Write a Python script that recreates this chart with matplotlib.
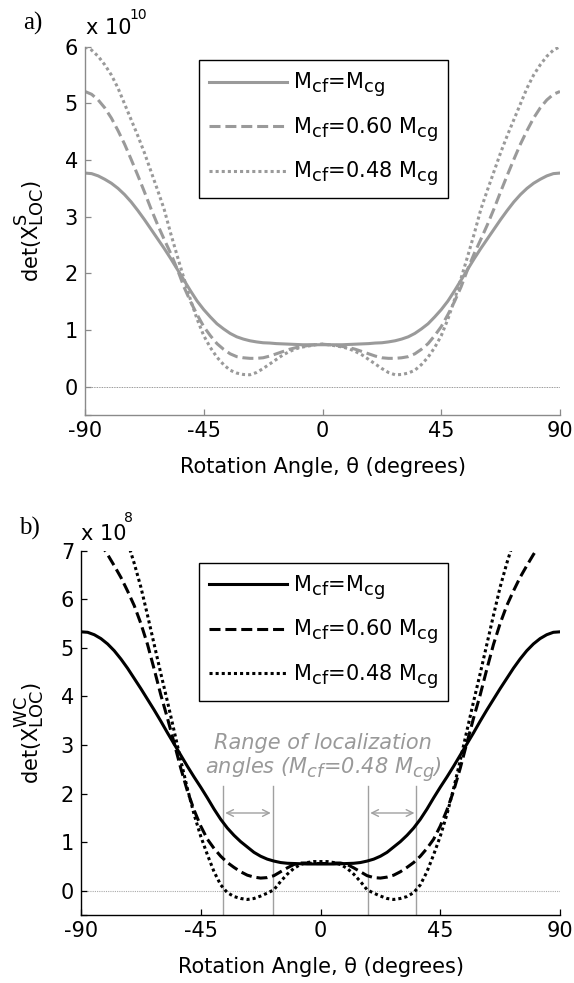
import matplotlib
matplotlib.use("Agg")
import numpy as np
import matplotlib.pyplot as plt
import matplotlib._mathtext as _mt

# MATLAB-style larger, lower sub/superscripts
_mt.SHRINK_FACTOR = 0.85
_mt.DejaVuSansFontConstants.sub1 = 0.35
_mt.DejaVuSansFontConstants.sub2 = 0.45

plt.rcParams['font.family'] = ['DejaVu Sans']
plt.rcParams['mathtext.default'] = 'regular'

# ---------------- data ----------------
theta = np.arange(-90, 90.01, 2.5)

# panel a) det(X^S_LOC), units of 1e10
a_full = [3.77, 3.76, 3.72, 3.66, 3.59, 3.50, 3.39, 3.26, 3.11, 2.95, 2.78, 2.61, 2.44, 2.26, 2.07, 1.88, 1.69, 1.51,
          1.36, 1.23, 1.11, 1.02, 0.94, 0.88, 0.84, 0.81, 0.79, 0.775, 0.77, 0.76, 0.755, 0.75, 0.745, 0.74, 0.74, 0.74,
          0.74,
          0.74, 0.74, 0.74, 0.745, 0.75, 0.755, 0.76, 0.77, 0.775, 0.79, 0.81, 0.84, 0.88, 0.94, 1.02, 1.11, 1.23, 1.36,
          1.51, 1.69, 1.88, 2.07, 2.26, 2.44, 2.61, 2.78, 2.95, 3.11, 3.26, 3.39, 3.50, 3.59, 3.66, 3.72, 3.76, 3.77]
a_060 = [5.21, 5.16, 5.06, 4.92, 4.74, 4.52, 4.28, 4.01, 3.73, 3.44, 3.14, 2.86, 2.60, 2.35, 2.07, 1.76, 1.50, 1.27,
         1.06, 0.90, 0.76, 0.66, 0.58, 0.53, 0.51, 0.50, 0.50, 0.51, 0.54, 0.58, 0.62, 0.66, 0.69, 0.71, 0.73, 0.74,
         0.75,
         0.74, 0.73, 0.71, 0.69, 0.66, 0.62, 0.58, 0.54, 0.51, 0.50, 0.50, 0.51, 0.53, 0.58, 0.66, 0.76, 0.90, 1.06,
         1.27, 1.50, 1.76, 2.07, 2.35, 2.60, 2.86, 3.14, 3.44, 3.73, 4.01, 4.28, 4.52, 4.74, 4.92, 5.06, 5.16, 5.21]
a_048 = [6.00, 5.94, 5.83, 5.68, 5.50, 5.27, 4.99, 4.71, 4.43, 4.13, 3.80, 3.47, 3.13, 2.70, 2.30, 1.91, 1.53, 1.19,
         0.90, 0.69, 0.52, 0.39, 0.29, 0.24, 0.215, 0.21, 0.25, 0.32, 0.40, 0.48, 0.56, 0.62, 0.67, 0.70, 0.72, 0.74,
         0.75,
         0.74, 0.72, 0.70, 0.67, 0.62, 0.56, 0.48, 0.40, 0.32, 0.25, 0.21, 0.215, 0.24, 0.29, 0.39, 0.52, 0.69, 0.90,
         1.19, 1.53, 1.91, 2.30, 2.70, 3.13, 3.47, 3.80, 4.13, 4.43, 4.71, 4.99, 5.27, 5.50, 5.68, 5.83, 5.94, 6.00]

# panel b) det(X^WC_LOC), units of 1e8
b_full = [5.33, 5.32, 5.27, 5.19, 5.08, 4.94, 4.77, 4.58, 4.37, 4.16, 3.94, 3.72, 3.49, 3.25, 3.02, 2.79, 2.56, 2.34,
          2.13, 1.91, 1.68, 1.47, 1.29, 1.14, 1.01, 0.90, 0.79, 0.71, 0.65, 0.61, 0.58, 0.565, 0.56, 0.555, 0.55, 0.55,
          0.55,
          0.55, 0.55, 0.555, 0.56, 0.565, 0.58, 0.61, 0.65, 0.71, 0.79, 0.90, 1.01, 1.14, 1.29, 1.47, 1.68, 1.91, 2.13,
          2.34, 2.56, 2.79, 3.02, 3.25, 3.49, 3.72, 3.94, 4.16, 4.37, 4.58, 4.77, 4.94, 5.08, 5.19, 5.27, 5.32, 5.33]
b_060 = [7.70, 7.55, 7.35, 7.13, 6.92, 6.69, 6.45, 6.17, 5.87, 5.50, 5.07, 4.56, 4.03, 3.55, 3.04, 2.52, 2.05, 1.66,
         1.33, 1.06, 0.87, 0.71, 0.58, 0.48, 0.39, 0.32, 0.28, 0.26, 0.27, 0.31, 0.39, 0.47, 0.54, 0.57, 0.57, 0.56,
         0.56,
         0.56, 0.57, 0.57, 0.54, 0.47, 0.39, 0.31, 0.27, 0.26, 0.28, 0.32, 0.39, 0.48, 0.58, 0.71, 0.87, 1.06, 1.33,
         1.66, 2.05, 2.52, 3.04, 3.55, 4.03, 4.56, 5.07, 5.50, 5.87, 6.17, 6.45, 6.69, 6.92, 7.13, 7.35, 7.55, 7.70]
b_048 = [9.60, 9.30, 9.00, 8.65, 8.30, 7.95, 7.60, 7.18, 6.74, 6.25, 5.67, 5.07, 4.47, 3.89, 3.29, 2.68, 2.10, 1.57,
         1.12, 0.74, 0.39, 0.12, -0.04, -0.12, -0.16, -0.18, -0.16, -0.11, -0.05, 0.02, 0.19, 0.34, 0.46, 0.54, 0.58,
         0.60, 0.60,
         0.60, 0.58, 0.54, 0.46, 0.34, 0.19, 0.02, -0.05, -0.11, -0.16, -0.18, -0.16, -0.12, -0.04, 0.12, 0.39, 0.74,
         1.12, 1.57, 2.10, 2.68, 3.29, 3.89, 4.47, 5.07, 5.67, 6.25, 6.74, 7.18, 7.60, 7.95, 8.30, 8.65, 9.00, 9.30, 9.60]

labels = [r'M$_{cf}$=M$_{cg}$', r'M$_{cf}$=0.60 M$_{cg}$', r'M$_{cf}$=0.48 M$_{cg}$']
xticks = [-90, -45, 0, 45, 90]
a_yticks = [0, 1, 2, 3, 4, 5, 6]
b_yticks = [0, 1, 2, 3, 4, 5, 6, 7]
loc_lines = [-36.5, -18.0, 18.0, 36.0]
arrow_y = 1.6

# ---------------- figure ----------------
fig = plt.figure(figsize=(5.74, 9.83), dpi=100)
W, H = 574.0, 983.0

def axes_px(l, r, t, b):
    return fig.add_axes([l / W, 1 - b / H, (r - l) / W, (b - t) / H])

axA = axes_px(85, 560, 46.7, 415)
axB = axes_px(81, 560, 550.7, 915)

FS = 15
dash = (3.6, 1.6)
dot = (1.0, 1.0)

def style(ax, spine_col, yticks, ylim):
    ax.set_xlim(-90, 90)
    ax.set_ylim(*ylim)
    ax.set_xticks(xticks)
    ax.set_xticklabels([str(v) for v in xticks])
    ax.set_yticks(yticks)
    ax.set_yticks([ylim[0]], minor=True)
    for s in ['top', 'right']:
        ax.spines[s].set_visible(False)
    for s in ['left', 'bottom']:
        ax.spines[s].set_color(spine_col)
        ax.spines[s].set_linewidth(1.0)
    ax.tick_params(which='both', direction='in', length=4, width=0.9, color=spine_col,
                   labelsize=FS, labelcolor='black', top=False, right=False)
    ax.tick_params(axis='x', pad=4)
    ax.tick_params(axis='y', pad=5)

# ---- panel a ----
ga = '#9a9a9a'
axA.axhline(0, color='#777777', lw=0.6, ls=(0, (1, 1)), zorder=1)
la1, = axA.plot(theta, a_full, color=ga, lw=2.2, label=labels[0])
la2, = axA.plot(theta, a_060, color=ga, lw=2.2, ls=(0, dash), label=labels[1])
la3, = axA.plot(theta, a_048, color=ga, lw=2.2, ls=(0, dot), label=labels[2])
style(axA, '#8a8a8a', a_yticks, (-0.5, 6))
axA.set_xlabel('Rotation Angle, \u03b8 (degrees)', fontsize=FS, va='center')
axA.xaxis.set_label_coords(0.5, -0.141)
axA.set_ylabel(r'det(X$^{S}_{LOC}$)', fontsize=FS, va='center')
axA.yaxis.set_label_coords(-0.118, 0.5)

# ---- panel b ----
gl = '#a0a0a0'
axB.axhline(0, color='#aaaaaa', lw=0.8, ls=(0, (1, 1)), zorder=1)
for xv in loc_lines:
    axB.plot([xv, xv], [-0.5, 2.15], color=gl, lw=1.0, zorder=1)
for x0, x1 in [(loc_lines[0], loc_lines[1]), (loc_lines[2], loc_lines[3])]:
    axB.annotate('', xy=(x1 - 0.7, arrow_y), xytext=(x0 + 0.7, arrow_y),
                 arrowprops=dict(arrowstyle='<->', color=gl, lw=1.0, mutation_scale=12,
                                 shrinkA=0, shrinkB=0))
axB.text(1.0, 2.72, 'Range of localization\nangles (M$_{cf}$=0.48 M$_{cg}$)', color='#999999',
         style='italic', fontsize=FS, ha='center', va='center', linespacing=1.1)
lb1, = axB.plot(theta, b_full, color='black', lw=2.2, label=labels[0])
lb2, = axB.plot(theta, b_060, color='black', lw=2.2, ls=(0, dash), label=labels[1])
lb3, = axB.plot(theta, b_048, color='black', lw=2.2, ls=(0, dot), label=labels[2])
style(axB, 'black', b_yticks, (-0.5, 7))
axB.set_xlabel('Rotation Angle, \u03b8 (degrees)', fontsize=FS, va='center')
axB.xaxis.set_label_coords(0.5, -0.143)
axB.set_ylabel(r'det(X$^{WC}_{LOC}$)', fontsize=FS, va='center')
axB.yaxis.set_label_coords(-0.109, 0.5)

# ---- legends ----
def make_legend(handles, top_px):
    leg = fig.legend(handles=handles, loc='upper left',
                     bbox_to_anchor=(199 / W, 1 - top_px / H), bbox_transform=fig.transFigure,
                     fontsize=FS, frameon=True, fancybox=False, edgecolor='black',
                     handlelength=3.7, handletextpad=0.3, borderpad=0.5, labelspacing=0.75,
                     borderaxespad=0)
    leg.get_frame().set_linewidth(1.0)
    leg.get_frame().set_alpha(1)
    return leg

make_legend([la1, la2, la3], 60)
make_legend([lb1, lb2, lb3], 562.7)

# ---- panel letters and exponents ----
fig.text(23 / W, 1 - 23 / H, 'a)', family='Liberation Serif', fontsize=18, va='center')
fig.text(19 / W, 1 - 528 / H, 'b)', family='Liberation Serif', fontsize=18, va='center')
fig.text(86 / W, 1 - 28 / H, 'x 10', fontsize=FS, va='center')
fig.text(129 / W, 1 - 15 / H, '10', fontsize=10, va='center')
fig.text(81 / W, 1 - 534 / H, 'x 10', fontsize=FS, va='center')
fig.text(124 / W, 1 - 518 / H, '8', fontsize=10, va='center')

fig.savefig('out.png', dpi=100)
